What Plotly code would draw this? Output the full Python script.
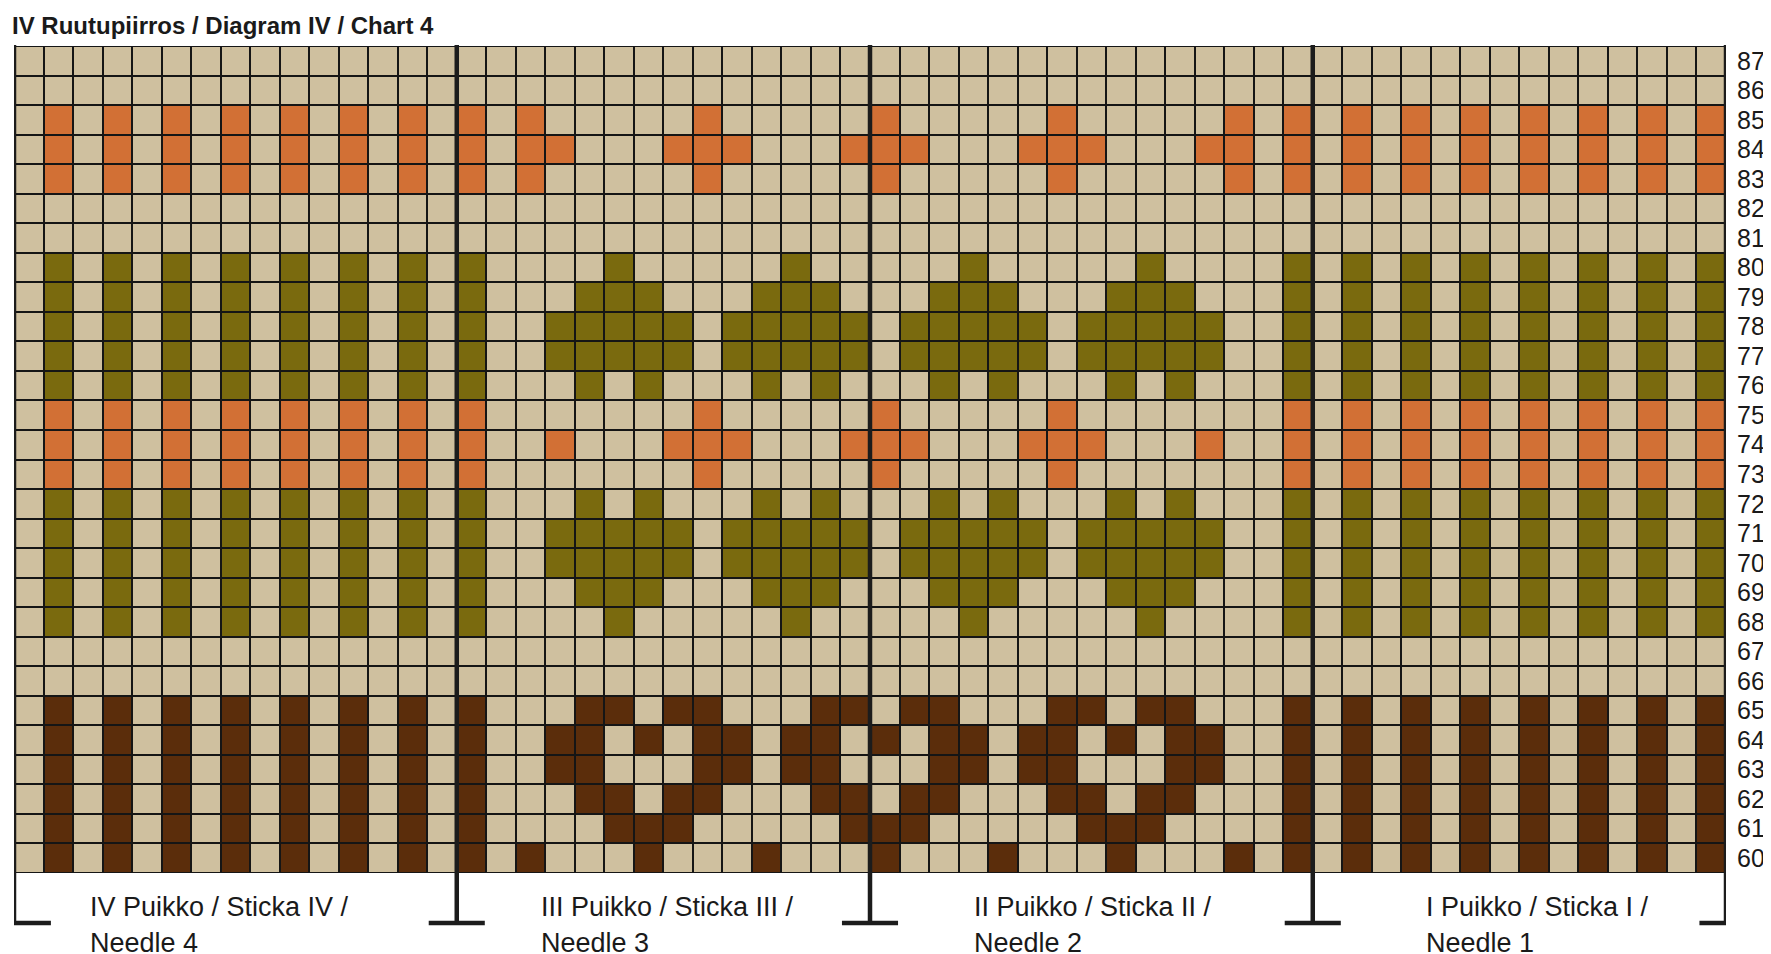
import plotly.graph_objects as go

W, H = 1771, 954
ROWS = list(range(60, 88))          # row numbers (bottom to top)
NCOLS = 58
STRIPES = [1, 3, 5, 7, 9, 11, 13, 15, 43, 45, 47, 49, 51, 53, 55, 57]

ORANGE = {
    85: STRIPES + [17, 23, 29, 35, 41],
    84: STRIPES + [17, 18, 22, 23, 24, 28, 29, 30, 34, 35, 36, 40, 41],
    83: STRIPES + [17, 23, 29, 35, 41],
    75: STRIPES + [23, 29, 35],
    74: STRIPES + [18, 22, 23, 24, 28, 29, 30, 34, 35, 36, 40],
    73: STRIPES + [23, 29, 35],
}
GREEN = {
    80: STRIPES + [20, 26, 32, 38],
    79: STRIPES + [19, 20, 21, 25, 26, 27, 31, 32, 33, 37, 38, 39],
    78: STRIPES + [18, 19, 20, 21, 22, 24, 25, 26, 27, 28, 30, 31, 32, 33, 34, 36, 37, 38, 39, 40],
    77: STRIPES + [18, 19, 20, 21, 22, 24, 25, 26, 27, 28, 30, 31, 32, 33, 34, 36, 37, 38, 39, 40],
    76: STRIPES + [19, 21, 25, 27, 31, 33, 37, 39],
    72: STRIPES + [19, 21, 25, 27, 31, 33, 37, 39],
    71: STRIPES + [18, 19, 20, 21, 22, 24, 25, 26, 27, 28, 30, 31, 32, 33, 34, 36, 37, 38, 39, 40],
    70: STRIPES + [18, 19, 20, 21, 22, 24, 25, 26, 27, 28, 30, 31, 32, 33, 34, 36, 37, 38, 39, 40],
    69: STRIPES + [19, 20, 21, 25, 26, 27, 31, 32, 33, 37, 38, 39],
    68: STRIPES + [20, 26, 32, 38],
}
BROWN = {
    65: STRIPES + [19, 20, 22, 23, 27, 28, 30, 31, 35, 36, 38, 39],
    64: STRIPES + [18, 19, 21, 23, 24, 26, 27, 29, 31, 32, 34, 35, 37, 39, 40],
    63: STRIPES + [18, 19, 23, 24, 26, 27, 31, 32, 34, 35, 39, 40],
    62: STRIPES + [19, 20, 22, 23, 27, 28, 30, 31, 35, 36, 38, 39],
    61: STRIPES + [20, 21, 22, 28, 29, 30, 36, 37, 38],
    60: STRIPES + [17, 21, 25, 29, 33, 37, 41],
}
DIVIDERS = [14.5, 28.5, 43.5]
NEEDLE_LINE1 = ["IV Puikko / Sticka IV /", "III Puikko / Sticka III /",
                "II Puikko / Sticka II /", "I Puikko / Sticka I /"]
NEEDLE_LINE2 = ["Needle 4", "Needle 3", "Needle 2", "Needle 1"]
NEEDLE_X = [80, 531, 964, 1416]
TITLE = "IV Ruutupiirros / Diagram IV / Chart 4"

BEIGE, ORG, GRN, BRN = "#cfc09f", "#d27035", "#7a6a0e", "#5b2d0b"
FONT = "Liberation Sans, Arial, sans-serif"

z = []
for r in ROWS:
    row = [0] * NCOLS
    for c in ORANGE.get(r, []):
        row[c] = 1
    for c in GREEN.get(r, []):
        row[c] = 2
    for c in BROWN.get(r, []):
        row[c] = 3
    z.append(row)

cs = [[0, BEIGE], [0.166, BEIGE], [0.167, ORG], [0.5, ORG],
      [0.501, GRN], [0.833, GRN], [0.834, BRN], [1, BRN]]

fig = go.Figure(go.Heatmap(z=z, x=list(range(NCOLS)), y=ROWS, colorscale=cs,
                           zmin=0, zmax=3, showscale=False, xgap=2, ygap=2,
                           hoverinfo="skip"))

def px_x(p): return p / W
def px_y(p): return 1 - p / H

top, foot = px_y(37), px_y(915)
LW = 4.5
DARK = "#1c1c1c"
shapes = []
shapes.append(dict(type="line", xref="x", yref="paper", x0=-0.5, x1=-0.5, y0=top, y1=foot, line=dict(color=DARK, width=LW)))
shapes.append(dict(type="line", xref="x", yref="paper", x0=-0.5, x1=0.75, y0=foot, y1=foot, line=dict(color=DARK, width=LW)))
shapes.append(dict(type="line", xref="x", yref="paper", x0=57.5, x1=57.5, y0=top, y1=foot, line=dict(color=DARK, width=LW)))
shapes.append(dict(type="line", xref="x", yref="paper", x0=56.6, x1=57.5, y0=foot, y1=foot, line=dict(color=DARK, width=LW)))
for d in DIVIDERS:
    shapes.append(dict(type="line", xref="x", yref="paper", x0=d, x1=d, y0=top, y1=foot, line=dict(color=DARK, width=LW)))
    shapes.append(dict(type="line", xref="x", yref="paper", x0=d - 0.95, x1=d + 0.95, y0=foot, y1=foot, line=dict(color=DARK, width=LW)))

ann = [dict(text="<b>" + TITLE + "</b>", x=px_x(2), y=px_y(17), xref="paper", yref="paper",
            xanchor="left", yanchor="middle", showarrow=False,
            font=dict(family=FONT, size=24, color="#1a1a1a"))]
for t1, t2, xp in zip(NEEDLE_LINE1, NEEDLE_LINE2, NEEDLE_X):
    for t, yp in ((t1, 899), (t2, 935)):
        ann.append(dict(text=t, x=px_x(xp), y=px_y(yp), xref="paper", yref="paper",
                        xanchor="left", yanchor="middle", showarrow=False,
                        font=dict(family=FONT, size=27, color="#1a1a1a")))

fig.update_layout(
    width=W, height=H, margin=dict(l=0, r=0, t=0, b=0),
    paper_bgcolor="white", plot_bgcolor="#151515",
    shapes=shapes, annotations=ann, showlegend=False,
    xaxis=dict(domain=[px_x(6), px_x(1718)], range=[-0.5, 57.5], showticklabels=False,
               showgrid=False, zeroline=False, fixedrange=True),
    yaxis=dict(domain=[px_y(865), px_y(38)], range=[59.5, 87.5], side="right",
               tickvals=ROWS, ticktext=[f"{r}." for r in ROWS], ticks="",
               ticklabelstandoff=10, showgrid=False, zeroline=False,
               tickfont=dict(family=FONT, size=25, color="#1a1a1a")),
)
fig.write_html("out.html")
